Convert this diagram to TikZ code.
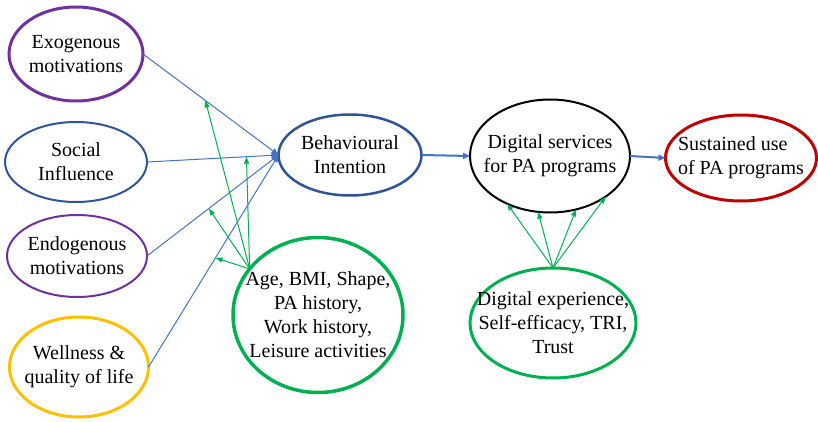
\documentclass[tikz,border=0pt]{standalone}
\usepackage{fontspec}
\setmainfont{Liberation Serif}
\usetikzlibrary{shapes.geometric,arrows.meta}
\definecolor{vio}{HTML}{7030A0}
\definecolor{navy}{HTML}{2F5597}
\definecolor{link}{HTML}{4472C4}
\definecolor{amber}{HTML}{FFC000}
\definecolor{leaf}{HTML}{00B050}
\definecolor{wine}{HTML}{C00000}
\tikzset{
  bubble/.style = {ellipse, draw, inner sep=-30pt, outer sep=0pt, align=center,
                   font=\fontsize{20}{24}\selectfont},
  blueline/.style = {draw=link, line width=#1, -{Triangle[length=7pt,width=6pt]}},
  blueline/.default = 1pt,
  greenline/.style = {draw=leaf, line width=1pt, -{Triangle[length=7pt,width=5pt]}}
}

\begin{document}
\begin{tikzpicture}[x=1pt, y=-1pt]
	\useasboundingbox (0,0) rectangle (818,422);
	
	% Left column
	\node[bubble, draw=vio, line width=3pt, minimum width=134pt, minimum height=94pt] (exo) at (76,54) {Exogenous\\motivations};
	\node[bubble, draw=navy, line width=2pt, minimum width=142pt, minimum height=80pt] (soc) at (76,162) {Social\\Influence};
	\node[bubble, draw=vio, line width=2pt, minimum width=140pt, minimum height=82pt] (endo) at (77,256) {Endogenous\\motivations};
	\node[bubble, draw=amber, line width=3pt, minimum width=139pt, minimum height=100pt] (well) at (79,367) {Wellness \&\\quality of life};
	
	% Middle
	\node[bubble, draw=navy, line width=2.5pt, minimum width=143pt, minimum height=81pt] (bi) at (350,155) {Behavioural\\Intention};
	\node[bubble, draw=leaf, line width=3.5pt, minimum width=170pt, minimum height=155pt] (age) at (318,315) {Age, BMI, Shape,\\PA history,\\Work history,\\Leisure activities};
	
	% Right
	\node[bubble, draw=black, line width=2pt, minimum width=160pt, minimum height=113pt] (ds) at (550,156) {Digital services\\for PA programs};
	\node[bubble, draw=leaf, line width=3pt, minimum width=166pt, minimum height=110pt] (dexp) at (553,323) {Digital experience,\\Self-efficacy, TRI,\\Trust};
	\node[bubble, align=left, draw=wine, line width=3pt, minimum width=151pt, minimum height=86pt] (sus) at (741,158) {Sustained use\\of PA programs};
	
	% Blue links
	\draw[blueline] (exo.east) -- coordinate[pos=0.46] (g1) (bi.west);
	\draw[blueline] (soc.east) -- coordinate[pos=0.756] (g2) (bi.west);
	\draw[blueline] (endo.east) -- coordinate[pos=0.47] (g3) (bi.west);
	\draw[blueline] (well.east) -- coordinate[pos=0.515] (g4) (bi.west);
	\draw[blueline=2pt] (bi.east) -- (ds.west);
	\draw[blueline=2pt] (ds.east) -- (sus.west);
	
	% Green links
	\draw[greenline] (age.146) -- (g1);
	\draw[greenline] (age.146) -- (g2);
	\draw[greenline] (age.146) -- (g3);
	\draw[greenline] (age.146) -- (g4);
	
	\draw[greenline] (dexp.north) -- (ds.228);
	\draw[greenline] (dexp.north) -- (ds.258);
	\draw[greenline] (dexp.north) -- (ds.296);
	\draw[greenline] (dexp.north) -- (ds.324);
	
\end{tikzpicture}
\end{document}
